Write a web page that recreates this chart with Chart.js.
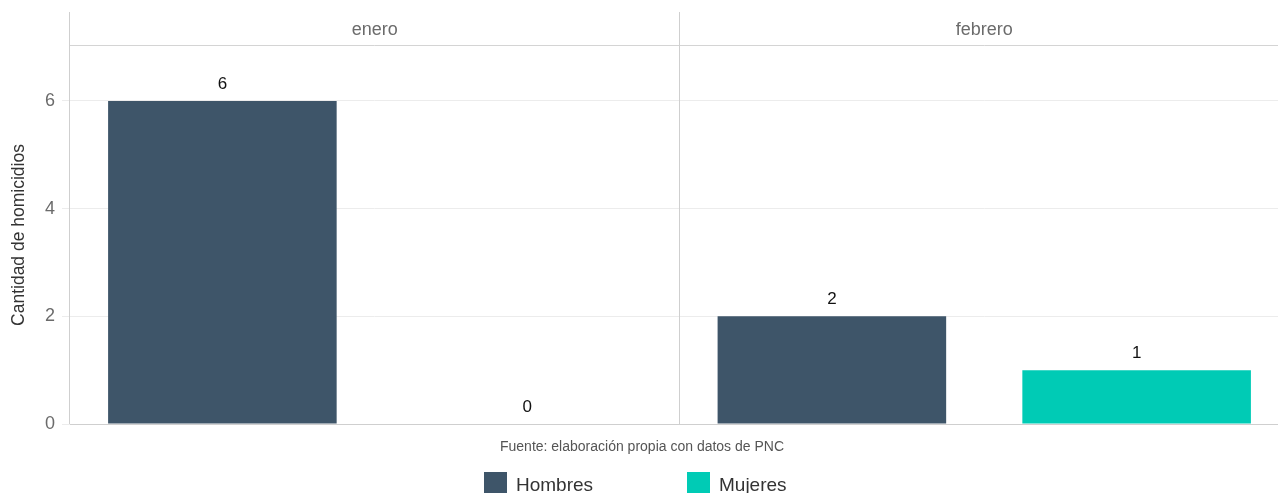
<!DOCTYPE html>
<html>
<head>
<meta charset="utf-8">
<script src="https://cdn.jsdelivr.net/npm/chart.js@4.4.1/dist/chart.umd.min.js"></script>
<style>
  html, body { margin: 0; padding: 0; background: #fff; overflow: hidden; width: 1278px; height: 493px; }
  #wrap { position: relative; width: 1290px; height: 493px; }
</style>
</head>
<body>
<div id="wrap"><canvas id="c" width="1290" height="493"></canvas></div>
<script>
const months = ['enero', 'febrero'];
const hombres = [6, 2];
const mujeres = [0, 1];
const yTicks = [0, 2, 4, 6];
const seriesNames = ['Hombres', 'Mujeres'];
const seriesColors = ['#3E5569', '#00CBB5'];
const yTitle = 'Cantidad de homicidios';
const caption = 'Fuente: elaboración propia con datos de PNC';

const FONT = "'Liberation Sans', Arial, sans-serif";

const facetPlugin = {
  id: 'facet',
  afterDraw(chart) {
    const ctx = chart.ctx;
    const ca = chart.chartArea;
    const xs = chart.scales.x;
    ctx.save();
    // left axis line from strip top
    ctx.strokeStyle = '#cfcfcf';
    ctx.lineWidth = 1;
    ctx.beginPath();
    ctx.moveTo(Math.round(ca.left) - 0.5, 12);
    ctx.lineTo(Math.round(ca.left) - 0.5, ca.bottom);
    ctx.stroke();
    // strip bottom line
    ctx.strokeStyle = '#d4d4d4';
    ctx.beginPath();
    ctx.moveTo(ca.left, Math.round(ca.top) - 0.5);
    ctx.lineTo(ca.right, Math.round(ca.top) - 0.5);
    ctx.stroke();
    // dividers between panels
    for (let i = 0; i < months.length - 1; i++) {
      const xm = Math.round((xs.getPixelForValue(i) + xs.getPixelForValue(i + 1)) / 2) - 0.5;
      ctx.strokeStyle = '#cfcfcf';
      ctx.beginPath();
      ctx.moveTo(xm, 12);
      ctx.lineTo(xm, ca.bottom);
      ctx.stroke();
    }
    // strip labels
    ctx.fillStyle = '#6b6b6b';
    ctx.font = '18px ' + FONT;
    ctx.textAlign = 'center';
    ctx.textBaseline = 'middle';
    months.forEach((m, i) => {
      ctx.fillText(m, xs.getPixelForValue(i), 30);
    });
    // data labels
    ctx.fillStyle = '#111';
    ctx.font = '17px ' + FONT;
    chart.data.datasets.forEach((ds, di) => {
      const meta = chart.getDatasetMeta(di);
      meta.data.forEach((bar, j) => {
        ctx.fillText(String(ds.data[j]), bar.x, bar.y - 17);
      });
    });
    // caption
    ctx.fillStyle = '#555';
    ctx.font = '14px ' + FONT;
    ctx.fillText(caption, 642, 447);
    // legend
    ctx.font = '19px ' + FONT;
    ctx.textAlign = 'left';
    ctx.textBaseline = 'alphabetic';
    const legendX = [484, 687];
    chart.data.datasets.forEach((ds, di) => {
      ctx.fillStyle = ds.backgroundColor;
      ctx.fillRect(legendX[di], 472, 23, 24);
      ctx.fillStyle = '#333';
      ctx.fillText(ds.label, legendX[di] + 32, 491);
    });
    ctx.restore();
  }
};

new Chart(document.getElementById('c'), {
  type: 'bar',
  data: {
    labels: months,
    datasets: [
      { label: seriesNames[0], data: hombres, backgroundColor: seriesColors[0] },
      { label: seriesNames[1], data: mujeres, backgroundColor: seriesColors[1] }
    ]
  },
  options: {
    responsive: false,
    animation: false,
    devicePixelRatio: 1,
    categoryPercentage: 1.0,
    barPercentage: 0.75,
    layout: { padding: { left: 0, top: 46, right: 1, bottom: 69 } },
    plugins: { legend: { display: false }, tooltip: { enabled: false } },
    scales: {
      x: {
        ticks: { display: false },
        grid: { display: false },
        border: { display: true, color: '#cfcfcf', width: 1 },
        afterFit: s => { s.height = 0; }
      },
      y: {
        min: 0,
        max: 7.02,
        ticks: {
          stepSize: 2,
          includeBounds: false,
          color: '#6b6b6b',
          font: { family: FONT, size: 18 },
          padding: 7
        },
        afterBuildTicks: s => { s.ticks = yTicks.map(v => ({ value: v })); },
        grid: { color: '#ececec', tickLength: 8, tickColor: '#ececec', lineWidth: 1 },
        border: { display: false },
        title: {
          display: true,
          text: yTitle,
          color: '#333',
          font: { family: FONT, size: 17.5 },
          padding: { top: 9, bottom: 0 }
        },
        afterFit: s => { s.width = 70; }
      }
    }
  },
  plugins: [facetPlugin]
});
</script>
</body>
</html>
